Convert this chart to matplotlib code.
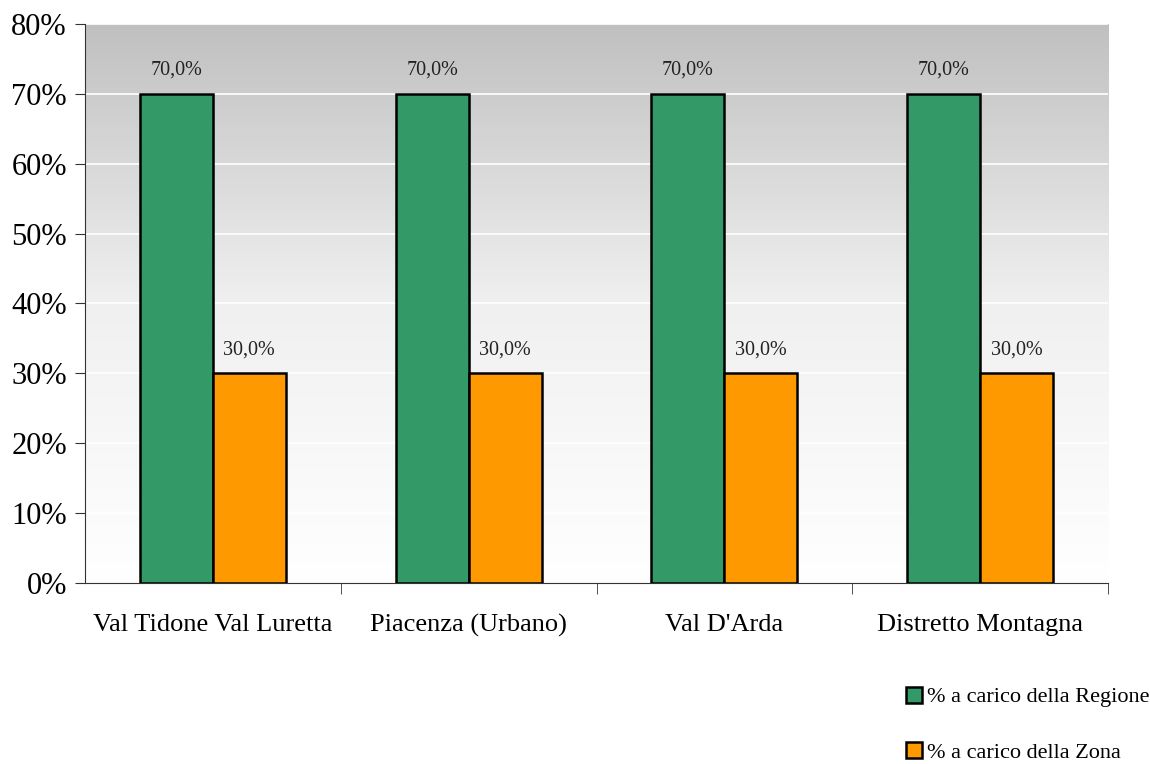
import numpy as np
import matplotlib.pyplot as plt
from matplotlib.colors import LinearSegmentedColormap
from matplotlib.ticker import FuncFormatter, MultipleLocator

zone = ['Val Tidone Val Luretta', 'Piacenza (Urbano)', "Val D'Arda", 'Distretto Montagna']
regione = [70.0, 70.0, 70.0, 70.0]
zona = [30.0, 30.0, 30.0, 30.0]
series_names = ['% a carico della Regione', '% a carico della Zona']

plt.rcParams['font.family'] = ['Liberation Serif', 'DejaVu Serif']

fig = plt.figure(figsize=(11.5, 7.64), dpi=100)
ax = fig.add_axes([0.0739, 0.2369, 0.8896, 0.7317])

x = np.arange(len(zone))
w = 0.285
b1 = ax.bar(x - w / 2, regione, w, color='#339966', edgecolor='black', linewidth=1.8, zorder=3)
b2 = ax.bar(x + w / 2, zona, w, color='#ff9900', edgecolor='black', linewidth=1.8, zorder=3)

for bars in (b1, b2):
    for r in bars:
        ax.annotate(f'{r.get_height():.1f}%'.replace('.', ','),
                    (r.get_x() + r.get_width() / 2, r.get_height()),
                    xytext=(0, 10), textcoords='offset points',
                    ha='center', va='bottom', fontsize=14.5, color='#222222')

# grey-to-white background gradient
grad = np.linspace(1, 0, 256).reshape(-1, 1)
cmap = LinearSegmentedColormap.from_list('bg', ['#ffffff', '#f0f0f0', '#c0c0c0'])
ax.imshow(grad, cmap=cmap, aspect='auto', extent=(-0.5, len(zone) - 0.5, 0, 80),
          origin='upper', zorder=0)
ax.set_xlim(-0.5, len(zone) - 0.5)
ax.set_ylim(0, 80)

ax.yaxis.set_major_locator(MultipleLocator(10))
ax.yaxis.set_major_formatter(FuncFormatter(lambda v, p: f'{v:.0f}%'))
ax.grid(axis='y', color='white', linewidth=1.2, zorder=1)
ax.set_axisbelow(True)

ax.set_xticks(x)
ax.set_xticklabels(zone, fontsize=19)
ax.tick_params(axis='x', length=0, pad=22)
ax.set_xticks(np.arange(len(zone)) + 0.5, minor=True)
ax.tick_params(axis='x', which='minor', length=8, color='#333333', direction='out')
ax.tick_params(axis='y', labelsize=22, length=7, color='#333333', pad=6)

for s in ('top', 'right'):
    ax.spines[s].set_visible(False)
ax.spines['left'].set_color('#333333')
ax.spines['bottom'].set_color('#333333')

leg = fig.legend([b1, b2], series_names, loc='lower right', bbox_to_anchor=(1.007, -0.01),
                 frameon=False, fontsize=16, handlelength=0.75, handleheight=0.75,
                 handletextpad=0.2, labelspacing=1.55, borderaxespad=0.0)

fig.savefig('out.png', dpi=100)
